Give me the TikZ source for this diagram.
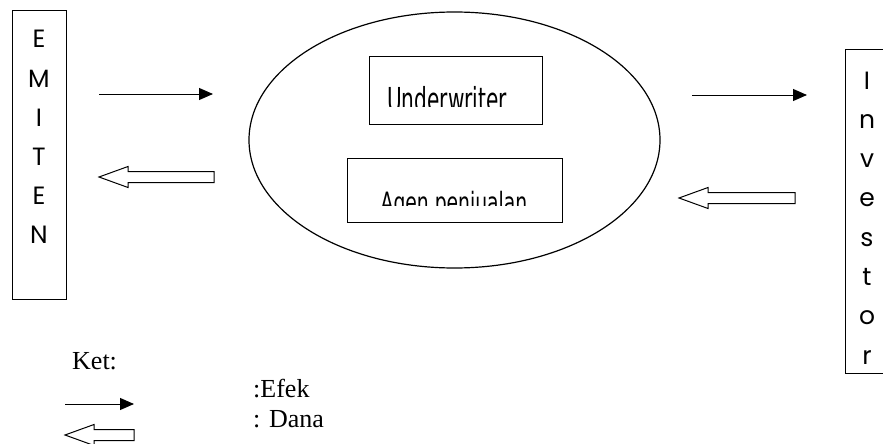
\documentclass[tikz,border=0pt]{standalone}
\usepackage{fontspec}
\usepackage{graphicx}
\setmainfont{Liberation Serif}
\newfontfamily\gothic{Poppins}
\newfontfamily\narrowf{DejaVu Sans}
\usetikzlibrary{arrows.meta,shapes.geometric}
\tikzset{
  box/.style={draw, line width=1pt, inner sep=0pt, rectangle},
  letter/.style={font=\gothic\fontsize{25}{25}\selectfont, anchor=base, inner sep=0pt},
  efek/.style={line width=1pt, -{Triangle[length=14pt,width=12pt]}},
  dana/.style={draw, line width=1pt, fill=white, line join=miter},
  legendtxt/.style={font=\fontsize{26}{26}\selectfont, anchor=base west, inner sep=0pt},
  innertxt/.style={anchor=base, inner sep=0pt, font=\narrowf},
}
\newcommand\danaarrow[2]{\draw[dana] (#1) -- ++(29,-10.5) -- ++(0,5) -- ++(#2,0) -- ++(0,11) -- ++(-#2,0) -- ++(0,5) -- cycle;}
\begin{document}
\begin{tikzpicture}[x=1pt,y=-1pt]
\useasboundingbox (0,0) rectangle (883,444);
\clip (0,0) rectangle (883,444);

% EMITEN box
\node[box, minimum width=54pt, minimum height=288pt] (emiten) at (39,155) {};
\foreach \c [count=\i] in {E,M,I,T,E,N}
  \node[letter] (em\i) at (39,{48+39*(\i-1)}) {\c};

% Investor box
\node[box, minimum width=50pt, minimum height=323pt] (investor) at (870,211.5) {};
\foreach \c [count=\i] in {I,n,v,e,s,t,o,r}
  \node[letter] (inv\i) at (867,{89+39.3*(\i-1)}) {\c};

% Ellipse
\node[draw, ellipse, line width=1.2pt, minimum width=411pt, minimum height=256pt, inner sep=0pt] (ell) at (454.5,140) {};

% Inner boxes
\node[box, minimum width=173pt, minimum height=67pt] (uw) at (455.5,90.5) {};
\node[box, minimum width=215pt, minimum height=64pt] (agen) at (454.5,190) {};
\begin{scope}
  \clip (369,57) rectangle (542,106.5);
  \node[innertxt, font=\narrowf\fontsize{33}{33}\selectfont] (uwtext) at (447,111) {\scalebox{0.61}[1]{Underwriter}};
\end{scope}
\begin{scope}
  \clip (347,158) rectangle (562,205.5);
  \node[innertxt, font=\narrowf\fontsize{28}{28}\selectfont] (agentext) at (454,212.5) {\scalebox{0.67}[1]{Agen penjualan}};
\end{scope}

% Arrows left
\coordinate (a1s) at (99,94);
\coordinate (a1e) at (213,94);
\draw[efek] (a1s) -- (a1e);
\coordinate (d1) at (99,177);
\danaarrow{d1}{86}

% Arrows right
\coordinate (a2s) at (692,95);
\coordinate (a2e) at (807,95);
\draw[efek] (a2s) -- (a2e);
\coordinate (d2) at (679,198);
\danaarrow{d2}{87}

% Legend
\node[legendtxt] (ket) at (72,369) {Ket:};
\node[legendtxt] (lefek) at (253,397) {:Efek};
\node[legendtxt] (ldana) at (253,427) {: Dana};
\coordinate (a3s) at (65,404);
\coordinate (a3e) at (134,404);
\draw[efek] (a3s) -- (a3e);
\coordinate (d3) at (65,435);
\danaarrow{d3}{40}
\end{tikzpicture}
\end{document}
